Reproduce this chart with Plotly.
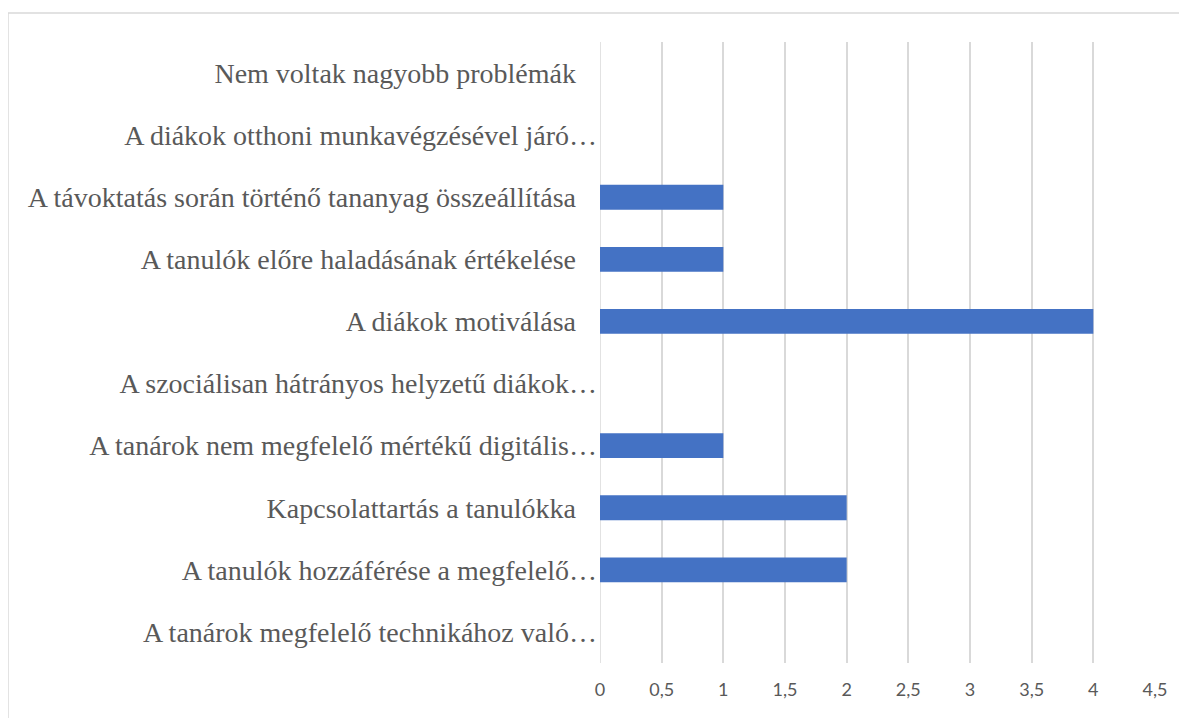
import plotly.graph_objects as go

# categories listed bottom to top, as plotly stacks them
categories = [
    "A tanárok megfelelő technikához való…",
    "A tanulók hozzáférése a megfelelő…",
    "Kapcsolattartás a tanulókka",
    "A tanárok nem megfelelő mértékű digitális…",
    "A szociálisan hátrányos helyzetű diákok…",
    "A diákok motiválása",
    "A tanulók előre haladásának értékelése",
    "A távoktatás során történő tananyag összeállítása",
    "A diákok otthoni munkavégzésével járó…",
    "Nem voltak nagyobb problémák",
]
values = [0, 2, 2, 1, 0, 4, 1, 1, 0, 0]
x_ticks = [0, 0.5, 1, 1.5, 2, 2.5, 3, 3.5, 4, 4.5]
x_tick_text = ["0", "0,5", "1", "1,5", "2", "2,5", "3", "3,5", "4", "4,5"]

# full labels sit a little further from the axis than the cut ones
labels = [c if c.endswith("…") else c + "\u00a0" * 3 for c in categories]

fig = go.Figure(go.Bar(
    x=values, y=labels, orientation='h',
    marker=dict(color='#4472C4', line=dict(width=0)),
    width=0.4,
))

# page body has an 8px margin, so the figure is 8px smaller than the window
fig.update_layout(
    width=1179, height=710,
    margin=dict(l=592, r=32, t=34, b=55),
    plot_bgcolor='white', paper_bgcolor='white',
    showlegend=False,
)
fig.update_xaxes(
    range=[0, 4.5], tickvals=x_ticks, ticktext=x_tick_text,
    showgrid=True, gridcolor='#d9d9d9', gridwidth=1.5,
    zeroline=False, showline=False,
    tickfont=dict(family='Lato', size=18, color='#595959'),
    ticklabelstandoff=14,
)
fig.update_yaxes(
    showgrid=False, zeroline=False, showline=False,
    tickfont=dict(family='Liberation Serif', size=28, color='#595959'),
    ticklabelstandoff=2,
)
# zero line drawn as a grid line too
fig.add_shape(type='line', xref='x', yref='paper', x0=0, x1=0, y0=0, y1=1,
              line=dict(color='#d9d9d9', width=1.5), layer='below')
# chart border
fig.add_shape(type='rect', xref='paper', yref='paper',
              x0=-1.0667, x1=1.07, y0=-0.1, y1=1.0467,
              line=dict(color='#d9d9d9', width=1.5))

fig.write_html("out.html")
